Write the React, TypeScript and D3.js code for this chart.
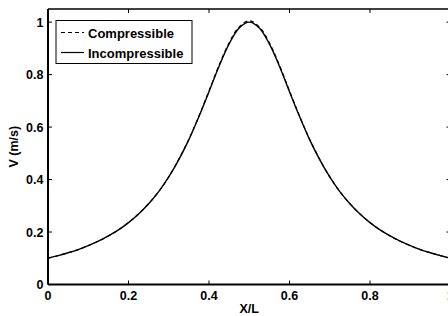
import React, { useEffect, useRef } from 'react';
import * as d3 from 'd3';

// X/L positions and velocities
const xPos = [0, 0.025, 0.05, 0.075, 0.1, 0.125, 0.15, 0.175, 0.2, 0.225, 0.25, 0.275, 0.3, 0.325, 0.35, 0.375, 0.4, 0.425, 0.45, 0.475, 0.5,
  0.525, 0.55, 0.575, 0.6, 0.625, 0.65, 0.675, 0.7, 0.725, 0.75, 0.775, 0.8, 0.825, 0.85, 0.875, 0.9, 0.925, 0.95, 0.975, 1];
const incompressible = [0.1, 0.11, 0.121, 0.133, 0.148, 0.165, 0.185, 0.208, 0.236, 0.269, 0.308, 0.354, 0.41, 0.476, 0.552, 0.64, 0.735, 0.832, 0.917, 0.978, 1.0,
  0.978, 0.917, 0.832, 0.735, 0.64, 0.552, 0.476, 0.41, 0.354, 0.308, 0.269, 0.236, 0.208, 0.185, 0.165, 0.148, 0.133, 0.121, 0.11, 0.1];
const compressible = [0.1, 0.11, 0.121, 0.133, 0.148, 0.165, 0.185, 0.208, 0.236, 0.269, 0.308, 0.354, 0.41, 0.477, 0.554, 0.642, 0.738, 0.836, 0.921, 0.982, 1.005,
  0.982, 0.921, 0.836, 0.738, 0.642, 0.554, 0.477, 0.41, 0.354, 0.308, 0.269, 0.236, 0.208, 0.185, 0.165, 0.148, 0.133, 0.121, 0.11, 0.1];
const xTicks = [0, 0.2, 0.4, 0.6, 0.8, 1];
const yTicks = [0, 0.2, 0.4, 0.6, 0.8, 1];

const width = 448;
const height = 316;
const margin = { top: 9, right: -2.5, bottom: 31.5, left: 48 };
const font = "'Liberation Sans', Arial, Helvetica, sans-serif";

const App: React.FC = () => {
  const svgRef = useRef<SVGSVGElement>(null);

  useEffect(() => {
    document.body.style.margin = '0';
    if (!svgRef.current) return;
    const svg = d3.select(svgRef.current);
    svg.selectAll('*').remove();

    const x0 = margin.left, x1 = width - margin.right;
    const y0 = height - margin.bottom, y1 = margin.top;
    const x = d3.scaleLinear().domain([0, 1]).range([x0, x1]);
    const y = d3.scaleLinear().domain([0, 1.05]).range([y0, y1]);

    svg.append('rect').attr('width', width).attr('height', height).attr('fill', '#fff');

    const line = d3.line<number>()
      .x((_, i) => x(xPos[i]))
      .y(d => y(d))
      .curve(d3.curveCatmullRom);

    svg.append('path').attr('d', line(incompressible)).attr('fill', 'none')
      .attr('stroke', '#000').attr('stroke-width', 1.4);
    svg.append('path').attr('d', line(compressible)).attr('fill', 'none')
      .attr('stroke', '#000').attr('stroke-width', 1.2).attr('stroke-dasharray', '4,3');

    // box
    const tl = 4;
    svg.append('line').attr('x1', x0).attr('x2', x1).attr('y1', y1).attr('y2', y1)
      .attr('stroke', '#000').attr('stroke-width', 1.5);
    svg.append('line').attr('x1', x0).attr('x2', x1).attr('y1', y0).attr('y2', y0)
      .attr('stroke', '#000').attr('stroke-width', 2);
    svg.append('line').attr('x1', x0).attr('x2', x0).attr('y1', y1).attr('y2', y0)
      .attr('stroke', '#000').attr('stroke-width', 2);
    svg.append('line').attr('x1', x1).attr('x2', x1).attr('y1', y1).attr('y2', y0)
      .attr('stroke', '#000').attr('stroke-width', 1.5);

    const g = svg.append('g').attr('stroke', '#000').attr('stroke-width', 1);
    xTicks.forEach(t => {
      g.append('line').attr('x1', x(t)).attr('x2', x(t)).attr('y1', y0).attr('y2', y0 - tl);
      g.append('line').attr('x1', x(t)).attr('x2', x(t)).attr('y1', y1).attr('y2', y1 + tl);
    });
    yTicks.forEach(t => {
      g.append('line').attr('x1', x0).attr('x2', x0 + tl).attr('y1', y(t)).attr('y2', y(t));
      g.append('line').attr('x1', x1).attr('x2', x1 - tl).attr('y1', y(t)).attr('y2', y(t));
    });

    const txt = svg.append('g').attr('font-family', font).attr('font-weight', 'bold')
      .attr('font-size', 12.5).attr('fill', '#000');
    xTicks.forEach(t => {
      txt.append('text').attr('x', x(t)).attr('y', y0 + 15).attr('text-anchor', 'middle').text(String(t));
    });
    yTicks.forEach(t => {
      txt.append('text').attr('x', x0 - 4.5).attr('y', y(t) + 4.5).attr('text-anchor', 'end').text(String(t));
    });
    txt.append('text').attr('x', (x0 + x1) / 2).attr('y', y0 + 28).attr('text-anchor', 'middle').text('X/L');
    txt.append('text').attr('transform', `translate(18,${(y0 + y1) / 2}) rotate(-90)`)
      .attr('text-anchor', 'middle').text('V (m/s)');

    // legend
    const lg = svg.append('g');
    lg.append('rect').attr('x', 56).attr('y', 20.5).attr('width', 136).attr('height', 43)
      .attr('fill', '#fff').attr('stroke', '#000').attr('stroke-width', 1);
    lg.append('line').attr('x1', 61).attr('x2', 84).attr('y1', 32.5).attr('y2', 32.5)
      .attr('stroke', '#000').attr('stroke-width', 1.2).attr('stroke-dasharray', '4,3');
    lg.append('line').attr('x1', 61).attr('x2', 84).attr('y1', 52.5).attr('y2', 52.5)
      .attr('stroke', '#000').attr('stroke-width', 1.2);
    const lt = lg.append('g').attr('font-family', font).attr('font-weight', 'bold')
      .attr('font-size', 13).attr('fill', '#000');
    lt.append('text').attr('x', 88).attr('y', 37.5).text('Compressible');
    lt.append('text').attr('x', 88).attr('y', 57.5).text('Incompressible');
  }, []);

  return <svg ref={svgRef} width={width} height={height} style={{ display: 'block' }} />;
};

export default App;
